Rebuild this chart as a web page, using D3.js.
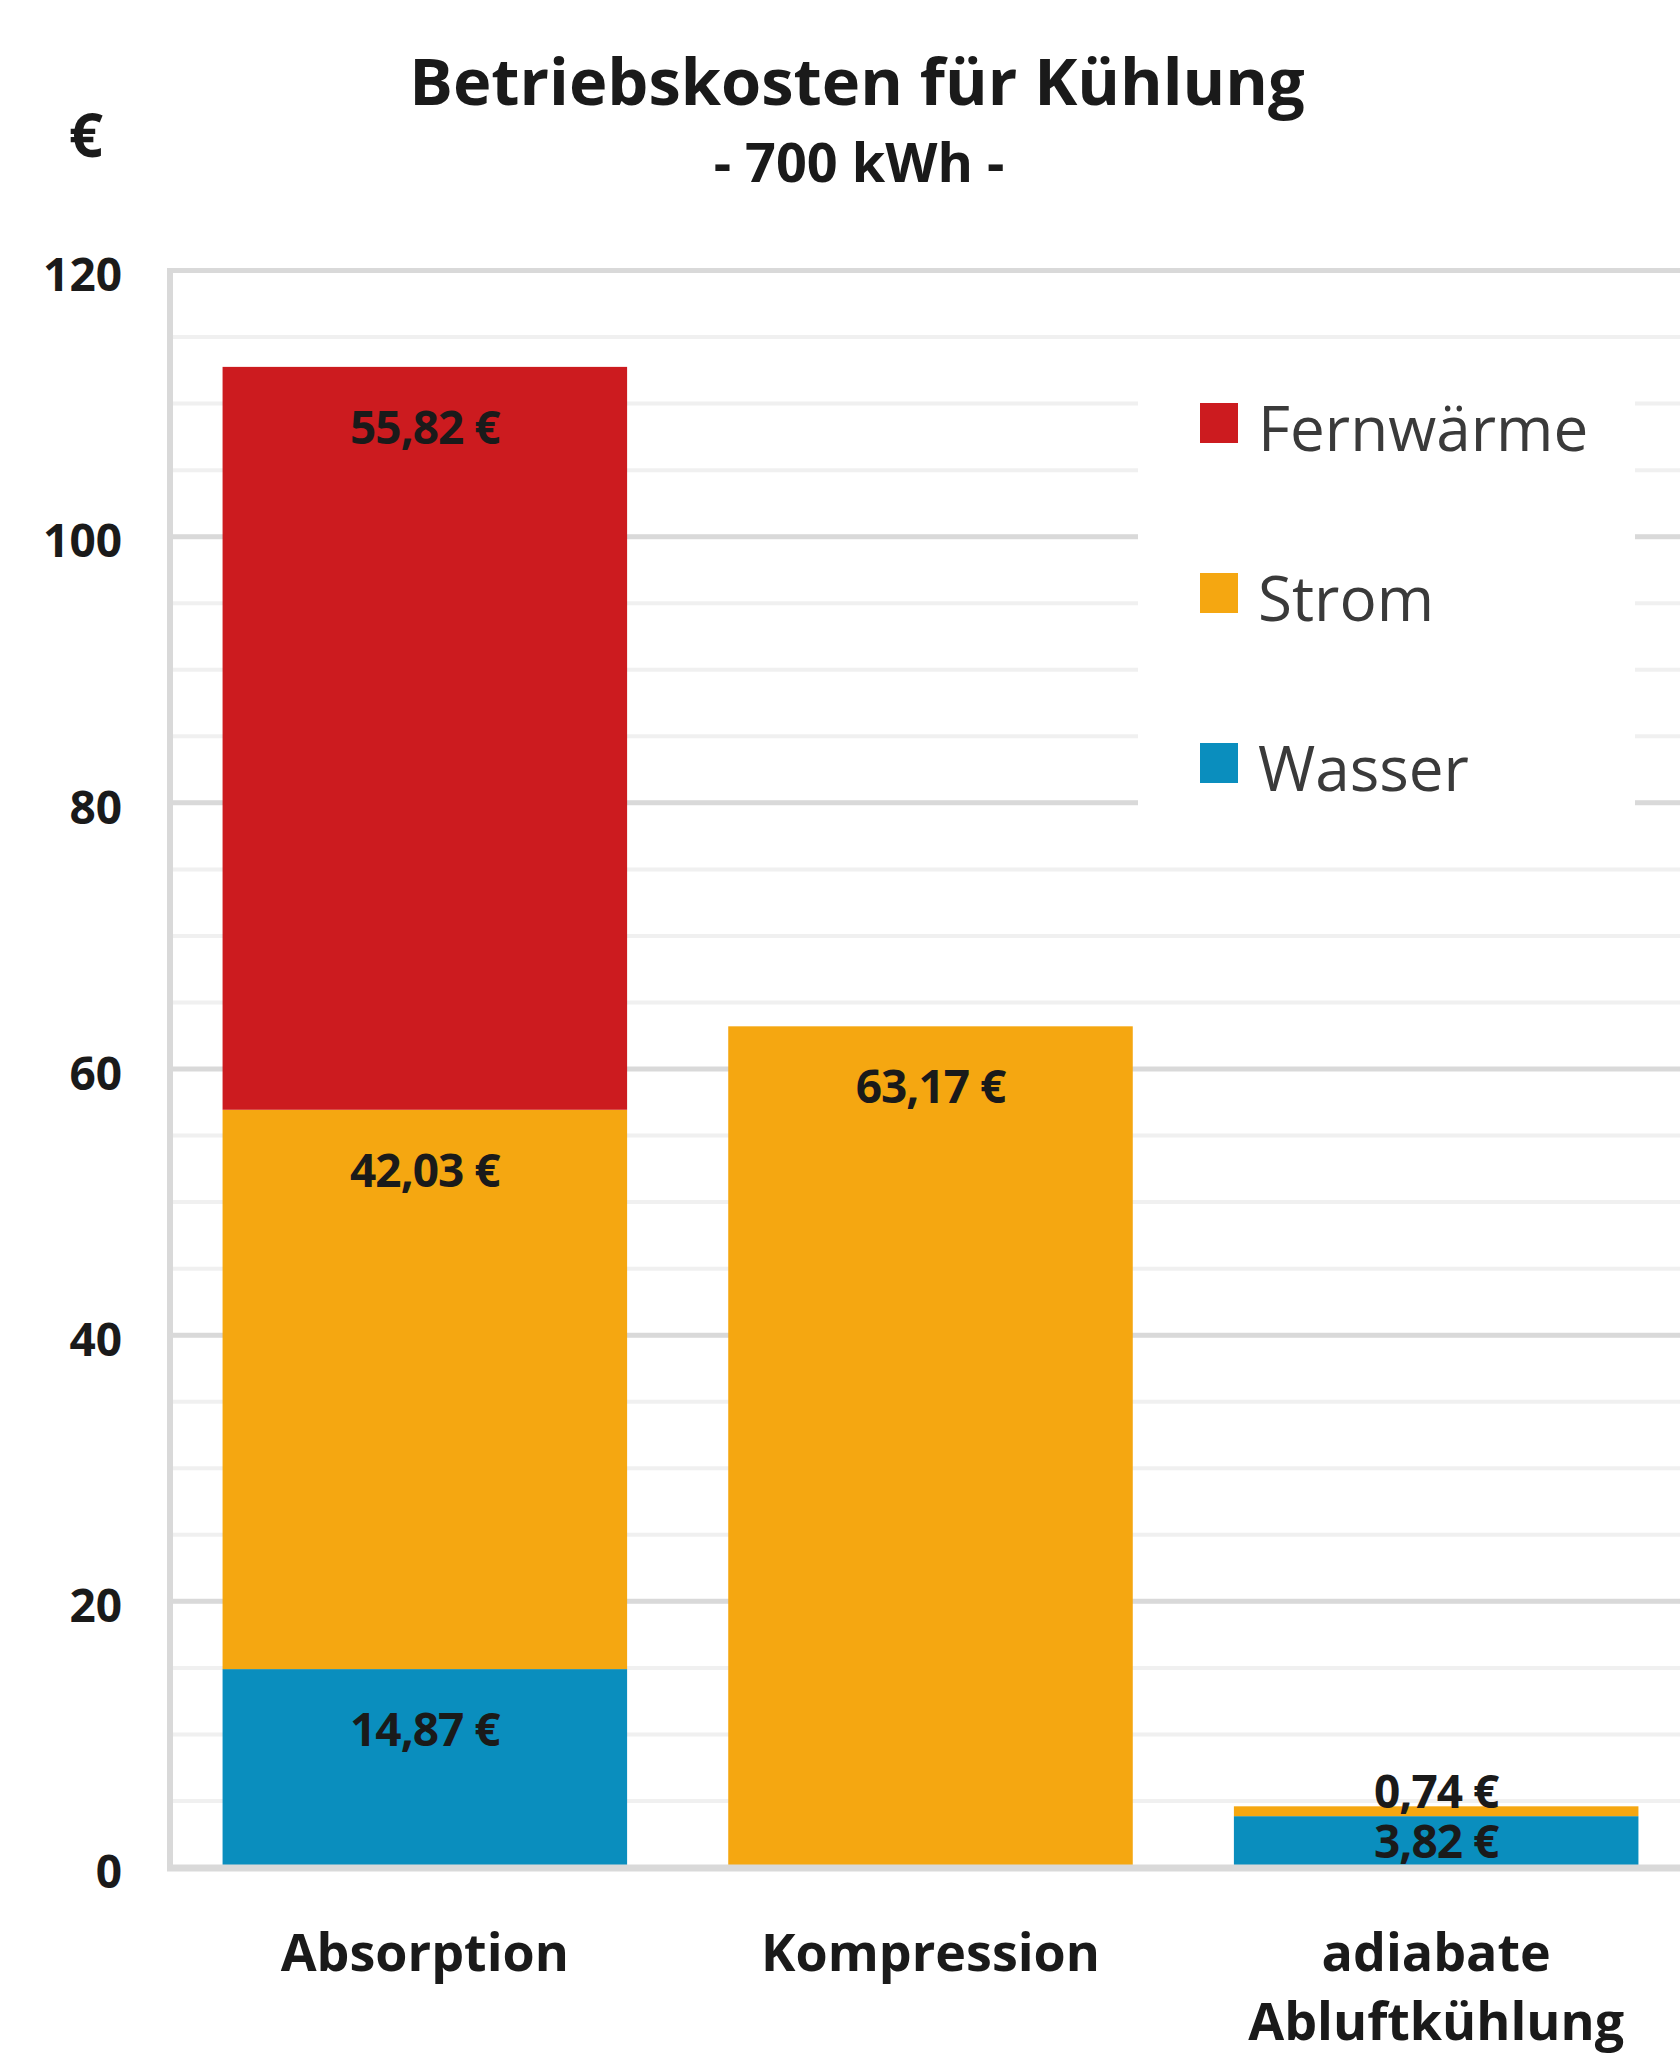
<!DOCTYPE html>
<html>
<head>
<meta charset="utf-8">
<script src="https://cdn.jsdelivr.net/npm/d3@7"></script>
<style>
  body { margin: 0; background: #fff; }
  svg { display: block; font-family: "Open Sans", sans-serif; }
</style>
</head>
<body>
<div id="chart"></div>
<script>
var categories = ["Absorption", "Kompression", "adiabate\nAbluftkühlung"];
var seriesNames = ["Wasser", "Strom", "Fernwärme"];
var wasser = [14.87, 0, 3.82];
var strom = [42.03, 63.17, 0.74];
var fernwaerme = [55.82, 0, 0];
var yTicks = [0, 20, 40, 60, 80, 100, 120];
var colors = ["#0a8ebe", "#f5a711", "#cc1b1f"];

var width = 1680,
    height = 2072;

var rows = categories.map(function(c, i) {
  return { cat: c, "Wasser": wasser[i], "Strom": strom[i], "Fernwärme": fernwaerme[i] };
});

var de = d3.formatLocale({ decimal: ",", thousands: ".", grouping: [3], currency: ["", " €"] });
var fmt = de.format("$.2f");

var svg = d3.select("#chart").append("svg")
    .attr("width", width)
    .attr("height", height);

svg.append("rect").attr("width", width).attr("height", height).attr("fill", "#fff");

var x = d3.scaleBand()
    .domain(categories)
    .range([172, 1689])
    .paddingInner(0.2)
    .paddingOuter(0.1);

var y = d3.scaleLinear()
    .domain([0, 120])
    .range([1867, 270]);

var color = d3.scaleOrdinal().domain(seriesNames).range(colors);

// minor gridlines (every 5)
svg.append("g")
    .attr("transform", "translate(170,0)")
    .call(d3.axisLeft(y).ticks(24).tickSize(-(width - 170)).tickFormat(""))
    .call(function(g) {
      g.select(".domain").remove();
      g.selectAll("line").attr("stroke", "#f0f0f0").attr("stroke-width", 4);
    });

// major gridlines
svg.append("g")
    .attr("transform", "translate(170,0)")
    .call(d3.axisLeft(y).tickValues(yTicks.filter(function(d) { return d > 0; })).tickSize(-(width - 170)).tickFormat(""))
    .call(function(g) {
      g.select(".domain").remove();
      g.selectAll("line").attr("stroke", "#d9d9d9").attr("stroke-width", 5);
    });

// legend background hides gridlines
svg.append("rect")
    .attr("x", 1138).attr("y", 345)
    .attr("width", 497).attr("height", 495)
    .attr("fill", "#fff");

// bars
var stacked = d3.stack().keys(seriesNames)(rows);

var layer = svg.append("g").selectAll("g")
    .data(stacked)
  .enter().append("g")
    .attr("fill", function(d) { return color(d.key); });

layer.selectAll("rect")
    .data(function(d) { return d.filter(function(p) { return p[1] - p[0] > 0; }); })
  .enter().append("rect")
    .attr("x", function(d) { return x(d.data.cat); })
    .attr("y", function(d) { return y(d[1]); })
    .attr("width", x.bandwidth())
    .attr("height", function(d) { return y(d[0]) - y(d[1]); });

// axis lines
svg.append("line")
    .attr("x1", 170).attr("x2", 170)
    .attr("y1", 268).attr("y2", y(0))
    .attr("stroke", "#d9d9d9").attr("stroke-width", 6);
svg.append("line")
    .attr("x1", 167).attr("x2", width)
    .attr("y1", y(0) + 1).attr("y2", y(0) + 1)
    .attr("stroke", "#d9d9d9").attr("stroke-width", 7);

// value labels
var labels = svg.append("g")
    .attr("text-anchor", "middle")
    .attr("font-weight", 700)
    .attr("font-size", 46)
    .attr("fill", "#1a1a1a");

stacked.forEach(function(s) {
  s.forEach(function(p) {
    var v = p[1] - p[0];
    if (v <= 0) return;
    var top = y(p[1]), bot = y(p[0]), h = bot - top, cy;
    if (h >= 100) cy = top + 61;
    else if (h >= 30) cy = (top + bot) / 2;
    else cy = top - 14;
    labels.append("text")
        .attr("x", x(p.data.cat) + x.bandwidth() / 2)
        .attr("y", cy)
        .attr("dy", "0.35em")
        .attr("letter-spacing", -1)
        .text(fmt(v));
  });
});

// y axis labels
svg.append("g")
    .attr("transform", "translate(122,6)")
    .call(d3.axisLeft(y).tickValues(yTicks).tickSize(0).tickPadding(0))
    .call(function(g) {
      g.select(".domain").remove();
      g.selectAll("text")
          .attr("font-family", "Open Sans, sans-serif")
          .attr("font-size", 46)
          .attr("font-weight", 700)
          .attr("fill", "#1a1a1a");
    });

// x axis labels
var xl = svg.append("g")
    .attr("text-anchor", "middle")
    .attr("font-weight", 700)
    .attr("font-size", 52)
    .attr("fill", "#1a1a1a");

categories.forEach(function(c) {
  var t = xl.append("text")
      .attr("x", x(c) + x.bandwidth() / 2)
      .attr("y", 1971);
  c.split("\n").forEach(function(line, i) {
    t.append("tspan")
        .attr("x", x(c) + x.bandwidth() / 2)
        .attr("dy", i === 0 ? 0 : 69)
        .text(line);
  });
});

// legend
var legend = svg.append("g")
    .attr("transform", "translate(1200,403)");

var legendOrder = ["Fernwärme", "Strom", "Wasser"];
var item = legend.selectAll("g")
    .data(legendOrder)
  .enter().append("g")
    .attr("transform", function(d, i) { return "translate(0," + (i * 170) + ")"; });

item.append("rect")
    .attr("width", 38).attr("height", 40)
    .attr("fill", function(d) { return color(d); });

item.append("text")
    .attr("x", 58)
    .attr("y", 26)
    .attr("dy", "0.36em")
    .attr("font-size", 62)
    .attr("fill", "#3a3a3a")
    .text(function(d) { return d; });

// titles
svg.append("text")
    .attr("x", 857).attr("y", 105)
    .attr("text-anchor", "middle")
    .attr("font-size", 65)
    .attr("font-weight", 700)
    .attr("fill", "#1a1a1a")
    .text("Betriebskosten für Kühlung");

svg.append("text")
    .attr("x", 859).attr("y", 182)
    .attr("text-anchor", "middle")
    .attr("font-size", 54)
    .attr("font-weight", 700)
    .attr("fill", "#1a1a1a")
    .text("- 700 kWh -");

svg.append("text")
    .attr("x", 86).attr("y", 157)
    .attr("text-anchor", "middle")
    .attr("font-size", 60)
    .attr("font-weight", 700)
    .attr("fill", "#1a1a1a")
    .text("€");
</script>
</body>
</html>
